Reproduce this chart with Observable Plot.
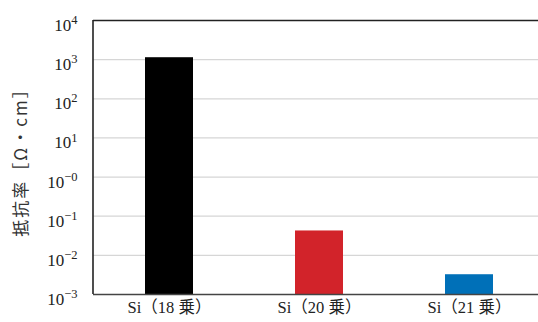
<!DOCTYPE html>
<html>
<head>
<meta charset="utf-8">
<script src="https://cdn.jsdelivr.net/npm/d3@7"></script>
<script src="https://cdn.jsdelivr.net/npm/@observablehq/plot@0.6"></script>
<style>
  html, body { margin: 0; padding: 0; background: #fff; }
  svg { overflow: hidden; }
</style>
</head>
<body>
<div id="chart"></div>
<script>
const categories = ["Si（18 乗）", "Si（20 乗）", "Si（21 乗）"];
const resistivity = [1120, 0.042, 0.0032];
const barColors = ["#000000", "#d2232a", "#0070b8"];
const tickValues = [1e-3, 1e-2, 1e-1, 1, 1e1, 1e2, 1e3, 1e4];
const tickExponents = ["-3", "-2", "-1", "-0", "1", "2", "3", "4"];
const yLabel = "抵抗率［Ω・cm］";

const data = categories.map((c, i) => ({cat: c, value: resistivity[i], color: barColors[i]}));
const FONT = "Liberation Serif, Noto Sans CJK JP, serif";

const plot = Plot.plot({
  width: 538,
  height: 322,
  marginTop: 20,
  marginBottom: 28,
  marginLeft: 93,
  marginRight: 0,
  style: {background: "#fff", overflow: "hidden"},
  x: {type: "band", domain: categories, range: [93, 545], paddingInner: 0.68, paddingOuter: 0.34, label: null},
  y: {type: "log", domain: [1e-3, 1e4], label: null},
  marks: [
    Plot.ruleY(tickValues.slice(1, -1), {stroke: "#d6d6d6", strokeWidth: 1.3}),
    Plot.barY(data, {x: "cat", y1: 1e-3, y2: "value", fill: "color"}),
    Plot.ruleY([1e4], {stroke: "#222", strokeWidth: 1.6}),
    Plot.ruleY([1e-3], {stroke: "#444", strokeWidth: 1.6}),
    Plot.axisY(tickValues, {
      tickSize: 0, tickPadding: 16, fill: "#222",
      tickFormat: (d) => "10^" + tickExponents[tickValues.findIndex(t => Math.abs(Math.log10(t) - Math.log10(d)) < 1e-6)],
      label: null
    }),
    Plot.axisX({tickSize: 0, tickPadding: 7, fill: "#222", label: null})
  ]
});

const svg = d3.select(plot);
const yScale = plot.scale("y");

// left frame line via the y scale
svg.append("line")
  .attr("x1", 93).attr("x2", 93)
  .attr("y1", yScale.apply(1e-3)).attr("y2", yScale.apply(1e4))
  .attr("stroke", "#222").attr("stroke-width", 1.6);

// fonts and superscript exponents
svg.selectAll("text").each(function() {
  const el = d3.select(this);
  el.style("font-family", FONT).style("font-size", "16.5px").style("fill", "#222");
  const t = this.textContent;
  const m = /^10\^(.*)$/.exec(t);
  if (m) {
    el.style("font-size", "17px").attr("dy", "0.3em");
    el.text("");
    el.append("tspan").text("10");
    el.append("tspan").attr("dy", "-0.55em").style("font-size", "12.5px").text(m[1].replace("-", "−"));
  }
});

// y axis title
svg.append("text")
  .attr("transform", "translate(22,158) rotate(-90)")
  .attr("text-anchor", "middle")
  .attr("dominant-baseline", "middle")
  .style("font-family", "Noto Sans CJK JP, sans-serif")
  .style("font-size", "17px")
  .style("letter-spacing", "2px")
  .style("fill", "#333")
  .text(yLabel);

document.getElementById("chart").appendChild(plot);
</script>
</body>
</html>
